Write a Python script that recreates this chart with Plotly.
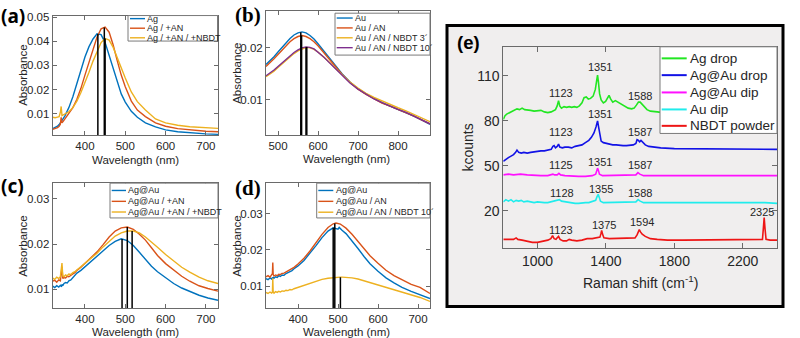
import numpy as np
import plotly.graph_objects as go

# ---------------- data ----------------
# Panel (a)
wl_a = [320, 326, 332, 336, 339, 341, 343, 346, 350, 360, 370, 380, 390, 400, 410, 420, 430, 440,
        450, 460, 470, 480, 490, 500, 515, 530, 550, 575, 600, 630, 660, 700, 730]
ag = [0.0038, 0.0042, 0.0048, 0.0055, 0.0062, 0.0068, 0.0073, 0.0080, 0.0090, 0.0125, 0.0170, 0.0225,
      0.0285, 0.0335, 0.0378, 0.0410, 0.0431, 0.0428, 0.0395, 0.0340, 0.0285, 0.0228, 0.0182, 0.0148,
      0.0110, 0.0085, 0.0062, 0.0045, 0.0033, 0.0025, 0.0020, 0.0016, 0.0014]
ag_an = [0.0035, 0.0038, 0.0042, 0.0048, 0.0056, 0.0085, 0.0062, 0.0068, 0.0078, 0.0098, 0.0125, 0.0160,
         0.0205, 0.0260, 0.0315, 0.0370, 0.0418, 0.0452, 0.0459, 0.0438, 0.0385, 0.0320, 0.0260, 0.0212,
         0.0152, 0.0115, 0.0088, 0.0062, 0.0048, 0.0038, 0.0032, 0.0027, 0.0025]
ag_an_nbdt = [0.0085, 0.0083, 0.0086, 0.0088, 0.0105, 0.0130, 0.0092, 0.0095, 0.0098, 0.0108, 0.0125, 0.0152,
              0.0188, 0.0228, 0.0272, 0.0318, 0.0360, 0.0395, 0.0412, 0.0405, 0.0375, 0.0332, 0.0288, 0.0248,
              0.0190, 0.0150, 0.0115, 0.0078, 0.0062, 0.0052, 0.0046, 0.0041, 0.0039]
names_a = ["Ag", "Ag / +AN", "Ag / +AN / +NBDT"]
peaks_a = [432, 448, 450]

# Panel (b)
wl_b = [470, 480, 490, 500, 510, 520, 530, 540, 550, 560, 570, 580, 590, 600, 615, 630, 645, 660, 680,
        700, 720, 740, 760, 780, 800, 820, 840, 860, 880]
au = [.0168, .0175, .0183, .0192, .0201, .0210, .0218, .0225, .0229, .0231, .0229, .0224, .0217, .0208,
      .0193, .0178, .0163, .0150, .0134, .0121, .0111, .0102, .0094, .0087, .0081, .0075, .0068, .0060, .0052]
au_an = [.0164, .0171, .0179, .0187, .0196, .0205, .0212, .0218, .0222, .0224, .0222, .0218, .0212, .0204,
         .0190, .0176, .0162, .0149, .0133, .0120, .0110, .0101, .0093, .0087, .0081, .0075, .0068, .0060, .0053]
au_nbdt3 = [.0144, .0149, .0155, .0162, .0169, .0176, .0183, .0189, .0194, .0198, .0201, .0200, .0197, .0192,
            .0182, .0171, .0159, .0148, .0134, .0122, .0112, .0104, .0097, .0090, .0084, .0078, .0071, .0064, .0057]
au_nbdt10 = [.0146, .0151, .0157, .0164, .0171, .0178, .0185, .0191, .0196, .0200, .0202, .0201, .0198, .0192,
             .0182, .0170, .0158, .0146, .0132, .0120, .0110, .0101, .0094, .0087, .0081, .0075, .0068, .0061, .0053]
names_b = ["Au", "Au / AN", "Au / AN / NBDT 3\u00b4", "Au / AN / NBDT 10\u00b4"]
peaks_b = [557, 559, 570, 572]

# Panel (c)
wl_c = [320, 325, 330, 335, 339, 342, 343, 345, 348, 352, 356, 360, 365, 370, 375, 380, 390, 400, 415,
        430, 445, 460, 475, 490, 505, 520, 535, 550, 565, 580, 600, 620, 640, 660, 683, 705, 730]
agau_c = [.0107, .0104, .0108, .0105, .0109, .0106, .0111, .0108, .0113, .0115, .0114, .0119, .0121, .0126,
          .0130, .0136, .0142, .0150, .0161, .0173, .0185, .0197, .0206, .0212, .0208, .0197, .0182, .0166,
          .0151, .0139, .0125, .0113, .0103, .0095, .0087, .0081, .0076]
agau_an_c = [.0118, .0120, .0116, .0121, .0119, .0145, .0150, .0124, .0126, .0125, .0129, .0128, .0132, .0134,
             .0137, .0142, .0149, .0157, .0169, .0183, .0199, .0216, .0229, .0236, .0238, .0233, .0222, .0209,
             .0192, .0175, .0157, .0142, .0129, .0118, .0108, .0102, .0096]
agau_nbdt_c = [.0125, .0122, .0127, .0124, .0128, .0155, .0158, .0130, .0128, .0132, .0130, .0134, .0133, .0137,
               .0139, .0143, .0150, .0157, .0168, .0180, .0194, .0207, .0218, .0225, .0229, .0229, .0225, .0216,
               .0205, .0193, .0177, .0162, .0149, .0138, .0127, .0119, .0113]
names_c = ["Ag@Au", "Ag@Au / +AN", "Ag@Au / +AN / +NBDT"]
peaks_c = [492, 505, 517]

# Panel (d)
wl_d = [320, 325, 330, 334, 336, 337, 338, 340, 344, 348, 352, 356, 360, 365, 370, 375, 380, 385, 390, 400,
        415, 430, 445, 460, 475, 488, 495, 500, 503, 506, 510, 520, 535, 550, 565, 580, 600, 620, 640, 660,
        683, 705, 730]
agau_d = [.0121, .0118, .0123, .0120, .0124, .0121, .0125, .0122, .0126, .0124, .0129, .0127, .0131, .0130,
          .0135, .0137, .0141, .0143, .0148, .0156, .0171, .0190, .0212, .0234, .0252, .0261, .0259, .0257,
          .0262, .0258, .0254, .0245, .0226, .0204, .0182, .0162, .0141, .0123, .0109, .0097, .0086, .0076, .0066]
agau_an_d = [.0126, .0129, .0125, .0130, .0135, .0165, .0132, .0128, .0131, .0129, .0133, .0132, .0135, .0136,
             .0139, .0142, .0145, .0148, .0152, .0161, .0177, .0197, .0220, .0243, .0262, .0272, .0274, .0273,
             .0272, .0271, .0268, .0260, .0243, .0223, .0203, .0184, .0163, .0144, .0129, .0117, .0105, .0097, .0080]
agau_nbdt_d = [.0083, .0080, .0084, .0081, .0083, .0122, .0084, .0081, .0085, .0083, .0086, .0084, .0087, .0086,
               .0089, .0088, .0091, .0090, .0093, .0097, .0103, .0109, .0115, .0119, .0122, .0124, .0125, .0125,
               .0125, .0125, .0125, .0125, .0123, .0120, .0115, .0110, .0103, .0096, .0090, .0084, .0077, .0069, .0058]
names_d = ["Ag@Au", "Ag@Au / AN", "Ag@Au / AN / NBDT 10\u00b4"]
peaks_d = [488, 492, 506]

# Panel (e) Raman spectra (kcounts)
g_x = [800, 810, 820, 835, 850, 865, 880, 895, 910, 925, 940, 960, 980, 1000, 1020, 1040, 1060, 1080, 1095,
       1105, 1115, 1123, 1130, 1140, 1155, 1170, 1185, 1200, 1215, 1230, 1245, 1260, 1272, 1285, 1297, 1310,
       1325, 1338, 1346, 1351, 1356, 1363, 1372, 1385, 1398, 1410, 1418, 1428, 1440, 1455, 1470, 1490, 1510,
       1530, 1550, 1565, 1578, 1590, 1600, 1612, 1625, 1640, 1660, 1680, 1700, 1730, 1760, 1800, 1900, 2000,
       2200, 2400]
g_y = [81, 83.5, 84.5, 85.5, 86.5, 87, 88, 87.5, 88.5, 87.5, 87.5, 87, 86.5, 86.5, 87, 86, 85.5, 86, 87,
       87.5, 90, 93.5, 90, 88.5, 89.5, 89, 89.5, 89, 89.5, 89, 90, 92, 95.5, 96, 94.5, 95,
       96.5, 101, 107, 110.5, 106, 98, 94, 92, 93, 96, 97, 94.5, 92.5, 93.5, 92.5, 91, 89.5,
       88.5, 88, 88.5, 90.5, 92.5, 92.5, 91, 89, 87.5, 86.5, 86, 86, 85.5, 85.5, 85, 85, 85,
       84.5, 84.5]
b_x = [800, 815, 830, 845, 860, 872, 880, 890, 905, 920, 940, 960, 980, 1000, 1020, 1040, 1060, 1080, 1090,
       1097, 1105, 1115, 1123, 1130, 1145, 1160, 1180, 1200, 1220, 1240, 1260, 1280, 1300, 1315, 1330, 1342,
       1351, 1357, 1364, 1372, 1385, 1400, 1420, 1440, 1460, 1480, 1500, 1520, 1540, 1560, 1575, 1582, 1590,
       1597, 1605, 1615, 1630, 1650, 1680, 1720, 1800, 1900, 2000, 2100, 2200, 2300, 2400]
b_y = [53, 54.5, 55.5, 56.5, 57.5, 59, 60.5, 59, 58.5, 59, 58.5, 59, 59.5, 59.5, 60, 60, 60.5, 61, 63,
       63.5, 62, 63, 64.5, 62.5, 62, 62.5, 62.5, 62, 63, 63.5, 64, 65.5, 67, 69, 72, 76,
       80, 76, 70, 66.5, 65.5, 65, 64.5, 64, 64, 63.5, 63.5, 63.5, 63.5, 64, 65, 67.5, 67,
       66, 67, 65.5, 64, 63, 62.5, 62, 61.5, 61.5, 61.3, 61.2, 61, 61, 61]
m_x = [800, 830, 860, 900, 940, 980, 1020, 1060, 1090, 1100, 1115, 1125, 1135, 1160, 1200, 1240, 1280, 1320,
       1340, 1346, 1351, 1356, 1362, 1380, 1420, 1460, 1500, 1540, 1575, 1587, 1598, 1620, 1700, 1800, 1900,
       2000, 2100, 2200, 2300, 2400]
m_y = [44, 44.5, 44, 44.5, 44, 43.5, 43.5, 43.5, 44.5, 44, 44, 45, 44, 43.5, 43, 43, 43, 43.5,
       44.5, 47, 48.5, 47, 44.5, 43.5, 43.5, 43.5, 43.5, 43.5, 44, 45.5, 44.5, 43.5, 43.5, 43.5, 43.5,
       43.5, 43.5, 43.5, 43.5, 43.5]
c_x = [800, 815, 830, 845, 860, 875, 890, 905, 920, 940, 960, 980, 1000, 1020, 1040, 1060, 1080, 1100, 1115,
       1128, 1140, 1160, 1180, 1200, 1220, 1240, 1260, 1280, 1300, 1320, 1340, 1348, 1355, 1361, 1368, 1385,
       1420, 1460, 1500, 1540, 1575, 1588, 1600, 1620, 1680, 1750, 1850, 1950, 2050, 2150, 2250, 2290, 2330,
       2400]
c_y = [26, 27.5, 26.5, 27.5, 26, 27, 26.5, 27, 26, 26.5, 26, 25.5, 26, 25.5, 25.5, 25.5, 26, 26.5, 27,
       27.5, 26.5, 26, 25.5, 25, 25, 25, 25.5, 25.5, 25.5, 26, 27, 29.5, 31, 29, 26.5, 25.5,
       25.5, 25.5, 25.5, 25.5, 26, 27.5, 26.5, 25.5, 25.5, 25.5, 25.5, 25.5, 25.5, 25.5, 25.5, 26, 25.5,
       25]
r_x = [800, 830, 860, 875, 885, 910, 940, 970, 1000, 1030, 1060, 1078, 1088, 1097, 1108, 1115, 1123, 1132,
       1150, 1170, 1185, 1200, 1230, 1260, 1290, 1320, 1350, 1365, 1371, 1375, 1380, 1388, 1420, 1460, 1500,
       1540, 1570, 1582, 1590, 1595, 1602, 1612, 1630, 1660, 1700, 1760, 1850, 1950, 2050, 2150, 2250, 2300,
       2315, 2320, 2325, 2330, 2336, 2360, 2400]
r_y = [1, 1, 1, 2, 1, 0.5, -0.5, -1, -1, -0.5, 0.5, 1.5, 3.5, 1.5, 1, 2, 3, 1,
       0, 0, 1, 0.5, 0, 0.5, 1.5, 1.5, 2, 2.5, 5, 7, 4.5, 2, 1.5, 1.5, 1.5,
       1.5, 2, 4, 7, 7.5, 6, 4.5, 3, 1.5, 1, 0.5, 0.5, 0.5, 0.5, 0.5, 0.5, 0.5,
       1, 8, 15.5, 8, 1, 0.5, 0.5]
names_e = ["Ag drop", "Ag@Au drop", "Ag@Au dip", "Au dip", "NBDT powder"]

peak_text = ["1123", "1351", "1588", "1123", "1351", "1587", "1125", "1351", "1587",
             "1128", "1355", "1588", "1123", "1375", "1594", "2325"]
peak_lx = [1135, 1363, 1600, 1135, 1363, 1600, 1135, 1363, 1600,
           1141, 1373, 1600, 1135, 1387, 1610, 2312]
peak_ly = [98.6, 116.2, 96.4, 72.7, 84.8, 72.7, 50.3, 52.5, 50.3,
           32.2, 34.9, 32.2, 7.4, 10.7, 12.4, 19.5]

# ---------------- styling ----------------
W, H = 800, 338
def px(x): return x / W
def py(y): return 1 - y / H

MB, MO, MY, MP = "#0072BD", "#D95319", "#EDB120", "#7E2F8E"
E_COLS = ["#22e622", "#1212e6", "#ff10ff", "#20ecec", "#ee1515"]
AXC = "#6a6a6a"
TXT = "#262626"
FONT = "Liberation Sans"

fig = go.Figure()

panels = [
    ("", wl_a, [ag, ag_an, ag_an_nbdt], names_a, [MB, MO, MY], peaks_a, (52.7, 218), (11.7, 132.7),
     [320, 730], [0.0011, 0.0507], [400, 500, 600, 700], [0.01, 0.02, 0.03, 0.04, 0.05]),
    ("2", wl_b, [au, au_an, au_nbdt3, au_nbdt10], names_b, [MB, MO, MY, MP], peaks_b, (266, 430), (7.3, 132.7),
     [470, 880], [0.0031, 0.0271], [500, 600, 700, 800], [0.01, 0.02]),
    ("3", wl_c, [agau_c, agau_an_c, agau_nbdt_c], names_c, [MB, MO, MY], peaks_c, (52.7, 218), (181.3, 308),
     [320, 730], [0.0058, 0.0335], [400, 500, 600, 700], [0.01, 0.02, 0.03]),
    ("4", wl_d, [agau_d, agau_an_d, agau_nbdt_d], names_d, [MB, MO, MY], peaks_d, (266, 430), (181.3, 308),
     [320, 730], [0.0039, 0.0384], [400, 500, 600, 700], [0.01, 0.02, 0.03]),
]

layout_axes = {}
shapes = []
annotations = []

def axis_style(size):
    return dict(showgrid=False, zeroline=False, showline=True, linecolor=AXC, linewidth=1,
                mirror="ticks", ticks="inside", ticklen=4, tickcolor=AXC, tickwidth=1,
                tickfont=dict(family=FONT, size=size, color=TXT))

for pid, x, ys, names, cols, peaks, xd, yd, xr, yr, xt, yt in panels:
    xa, ya = "x" + pid, "y" + pid
    for yv, col in zip(ys, cols):
        fig.add_trace(go.Scatter(x=x, y=yv, xaxis=xa, yaxis=ya, mode="lines",
                                 line=dict(color=col, width=1.4), showlegend=False, hoverinfo="skip"))
    for pk, yv in zip(peaks, ys):
        top = float(np.interp(pk, x, yv))
        fig.add_trace(go.Scatter(x=[pk, pk], y=[yr[0], top], xaxis=xa, yaxis=ya, mode="lines",
                                 line=dict(color="black", width=1.5), showlegend=False, hoverinfo="skip"))
    xs = axis_style(11.5)
    xs.update(domain=[px(xd[0]), px(xd[1])], range=xr, anchor=ya, tickvals=xt, ticktext=[str(v) for v in xt])
    ys_ = axis_style(11.5)
    ys_.update(domain=[py(yd[1]), py(yd[0])], range=yr, anchor=xa, tickvals=yt, ticktext=["%g" % v for v in yt])
    layout_axes["xaxis" + pid] = xs
    layout_axes["yaxis" + pid] = ys_

# Panel (e)
e_series = [(g_x, g_y), (b_x, b_y), (m_x, m_y), (c_x, c_y), (r_x, r_y)]
for (xv, yv), col in zip(e_series, E_COLS):
    fig.add_trace(go.Scatter(x=xv, y=yv, xaxis="x5", yaxis="y5", mode="lines",
                             line=dict(color=col, width=1.6), showlegend=False, hoverinfo="skip"))
xe = axis_style(14)
xe.update(domain=[px(503.3), px(777)], range=[800, 2400], anchor="y5", tickvals=[1000, 1400, 1800, 2200], ticklen=5)
ye = axis_style(14)
ye.update(domain=[py(246.7), py(43.3)], range=[-4.6, 129.4], anchor="x5", tickvals=[20, 50, 80, 110], ticklen=5)
layout_axes["xaxis5"] = xe
layout_axes["yaxis5"] = ye

for t, lx, ly in zip(peak_text, peak_lx, peak_ly):
    annotations.append(dict(x=lx, y=ly, xref="x5", yref="y5", text=t, showarrow=False,
                            font=dict(family=FONT, size=11, color=TXT)))

# frame around (e)
shapes.append(dict(type="rect", xref="paper", yref="paper", x0=px(447), x1=px(783), y0=py(306), y1=py(21.7),
                   fillcolor="#f0eeee", line=dict(color="black", width=3), layer="below"))

# custom legends
def legend(box, names, cols, ys, sx, tx, size, lw):
    shapes.append(dict(type="rect", xref="paper", yref="paper", x0=px(box[0]), x1=px(box[2]),
                       y0=py(box[3]), y1=py(box[1]), fillcolor="white", line=dict(color="#7a7a7a", width=1),
                       layer="above"))
    for n, c, y in zip(names, cols, ys):
        shapes.append(dict(type="line", xref="paper", yref="paper", x0=px(sx[0]), x1=px(sx[1]),
                           y0=py(y), y1=py(y), line=dict(color=c, width=lw), layer="above"))
        annotations.append(dict(x=px(tx), y=py(y), xref="paper", yref="paper", text=n, showarrow=False,
                                xanchor="left", yanchor="middle", borderpad=0,
                                font=dict(family=FONT, size=size, color=TXT)))

legend((128, 11.7, 217.5, 37.5), names_a, [MB, MO, MY], [14.8, 24.5, 34.2], (130, 145), 146, 9, 1.4)
legend((335, 9.3, 430, 51.7), names_b, [MB, MO, MY, MP], [14.2, 24.2, 34.2, 44.2], (336.7, 352.7), 353.5, 9, 1.4)
legend((110, 181.3, 218, 216.5), names_c, [MB, MO, MY], [188.7, 199.7, 210.5], (111.7, 126), 127, 9, 1.4)
legend((316.7, 181.3, 430, 216.5), names_d, [MB, MO, MY], [188.7, 199.7, 210.7], (318.3, 333.3), 334.5, 9, 1.4)
legend((660, 43.3, 777, 131), names_e, E_COLS, [55, 72, 89.5, 106.7, 123.3], (661.7, 686.7), 689, 13.5, 2)

# axis titles and panel labels
def ptext(x, y, t, size, family=FONT, angle=0, bold=False):
    annotations.append(dict(x=px(x), y=py(y), xref="paper", yref="paper", text=("<b>%s</b>" % t if bold else t),
                            showarrow=False, textangle=angle, xanchor="center", yanchor="middle",
                            font=dict(family=family, size=size, color=TXT if not bold else "black")))

for (ax_x, ax_y, wx, wy) in [(22.7, 72, 135.5, 157.5), (236.7, 70, 346, 157),
                              (22.7, 245, 135.5, 331.5), (236.7, 245, 346, 331.5)]:
    ptext(ax_x, ax_y, "Absorbance", 11.5, angle=-90)
    ptext(wx, wy, "Wavelength (nm)", 11.5)
ptext(468.3, 145, "kcounts", 14, angle=-90)
ptext(640, 281.7, "Raman shift (cm<sup>-1</sup>)", 14)

ptext(12.5, 12.5, "(a)", 19, family="Noto Sans", bold=True)
ptext(248, 11, "(b)", 21, family="Liberation Serif", bold=True)
ptext(12.5, 184, "(c)", 19, family="Noto Sans", bold=True)
ptext(248, 186, "(d)", 21, family="Liberation Serif", bold=True)
ptext(468.5, 39, "(e)", 18.5, family="Liberation Sans", bold=True)

fig.update_layout(width=W, height=H, margin=dict(l=0, r=0, t=0, b=0), paper_bgcolor="white",
                  plot_bgcolor="rgba(0,0,0,0)", showlegend=False, shapes=shapes, annotations=annotations,
                  **layout_axes)
fig.write_html("out.html")
